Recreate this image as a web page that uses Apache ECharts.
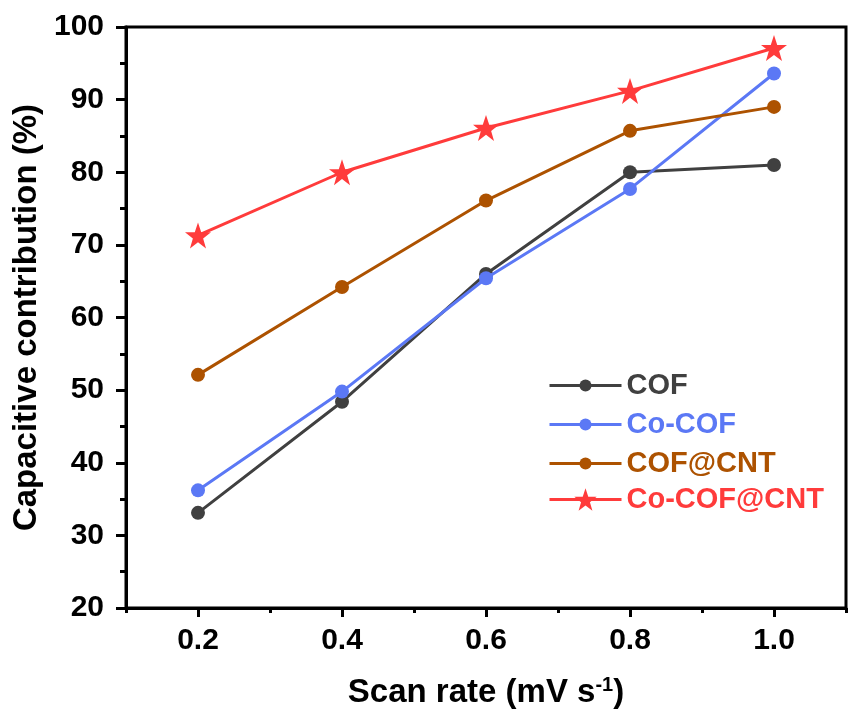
<!DOCTYPE html>
<html>
<head>
<meta charset="utf-8">
<script src="https://cdn.jsdelivr.net/npm/echarts@6/dist/echarts.min.js"></script>
<style>html,body{margin:0;padding:0;background:#fff}#c{width:849px;height:712px}</style>
</head>
<body>
<div id="c"></div>
<script>
const scanRates = [0.2, 0.4, 0.6, 0.8, 1.0];
const xLabels = [0.2, 0.4, 0.6, 0.8, 1.0];
const xMinorTicks = [0.1, 0.3, 0.5, 0.7, 0.9, 1.1];
const seriesNames = ['COF', 'Co-COF', 'COF@CNT', 'Co-COF@CNT'];
const cof = [33.1, 48.4, 66.0, 80.0, 81.0];
const coCof = [36.2, 49.8, 65.4, 77.7, 93.6];
const cofCnt = [52.1, 64.2, 76.1, 85.7, 89.0];
const coCofCnt = [71.3, 80.0, 86.1, 91.2, 97.1];
const colors = ['#404040', '#5B78F5', '#AD5200', '#FF3B3B'];
const STAR = 'path://M50,0 L61.8,34.5 L97.6,34.5 L68.8,55.9 L79.4,90.5 L50,69.1 L20.6,90.5 L31.2,55.9 L2.4,34.5 L38.2,34.5 Z';
const symbols = ['circle', 'circle', 'circle', STAR];
const allValues = [cof, coCof, cofCnt, coCofCnt];

const FONT = '"Liberation Sans", Arial, sans-serif';

const series = allValues.map((vals, i) => ({
  name: seriesNames[i],
  type: 'line',
  data: scanRates.map((x, j) => [x, vals[j]]),
  symbol: symbols[i],
  symbolSize: i === 3 ? 26 : 14,
  showAllSymbol: true,
  lineStyle: { color: colors[i], width: 3 },
  itemStyle: { color: colors[i] },
  z: 2 + i
}));

const legendText = { fontFamily: FONT, fontWeight: 'bold', fontSize: 29, padding: [0, 0, 0, 0] };

const chart = echarts.init(document.getElementById('c'), null, { renderer: 'canvas' });
chart.setOption({
  animation: false,
  backgroundColor: '#fff',
  grid: {
    left: 126, right: 3, top: 27, bottom: 104,
    containLabel: false, outerBoundsMode: 'none',
    show: true, borderColor: '#000', borderWidth: 3, backgroundColor: 'transparent'
  },
  legend: [{
    orient: 'vertical',
    left: 548, top: 371, padding: 0,
    itemWidth: 72, itemHeight: 15, itemGap: 10,
    lineStyle: { width: 3 },
    data: seriesNames.slice(0, 3).map((n, i) => ({ name: n, textStyle: { color: colors[i] } })),
    textStyle: legendText
  }, {
    orient: 'vertical',
    left: 548, top: 485, padding: 0,
    itemWidth: 72, itemHeight: 28, itemGap: 8,
    lineStyle: { width: 3 },
    data: [{ name: seriesNames[3], textStyle: { color: colors[3] } }],
    textStyle: legendText
  }],
  xAxis: [{
    type: 'value', min: 0.1, max: 1.1, interval: 0.1,
    name: 'Scan rate (mV s{sup|-1})',
    nameLocation: 'middle', nameGap: 67,
    nameTextStyle: {
      fontFamily: FONT, fontWeight: 'bold', fontSize: 33, color: '#000',
      rich: { sup: { fontFamily: FONT, fontWeight: 'bold', fontSize: 20, color: '#000', verticalAlign: 'top', padding: [0, 0, 16, 0] } }
    },
    axisLine: { show: true, lineStyle: { color: '#000', width: 3 } },
    axisTick: { show: true, inside: false, length: 9, lineStyle: { color: '#000', width: 3 }, customValues: xLabels },
    axisLabel: { show: true, margin: 18, fontFamily: FONT, fontWeight: 'bold', fontSize: 30, color: '#000',
      customValues: xLabels, formatter: v => v.toFixed(1) },
    splitLine: { show: false }
  }, {
    type: 'value', min: 0.1, max: 1.1, interval: 0.1, position: 'bottom',
    axisLine: { show: false },
    axisTick: { show: true, length: 5, lineStyle: { color: '#000', width: 3 }, customValues: xMinorTicks },
    axisLabel: { show: false },
    splitLine: { show: false }
  }],
  yAxis: {
    type: 'value', min: 20, max: 100, interval: 10,
    name: 'Capacitive contribution (%)',
    nameLocation: 'middle', nameGap: 82,
    nameTextStyle: { fontFamily: FONT, fontWeight: 'bold', fontSize: 33, color: '#000' },
    axisLine: { show: true, lineStyle: { color: '#000', width: 3 } },
    axisTick: { show: true, length: 10, lineStyle: { color: '#000', width: 3 } },
    minorTick: { show: true, splitNumber: 2, length: 6, lineStyle: { color: '#000', width: 3 } },
    axisLabel: { margin: 22, fontFamily: FONT, fontWeight: 'bold', fontSize: 30, color: '#000' },
    splitLine: { show: false }
  },
  series: series
});
</script>
</body>
</html>
